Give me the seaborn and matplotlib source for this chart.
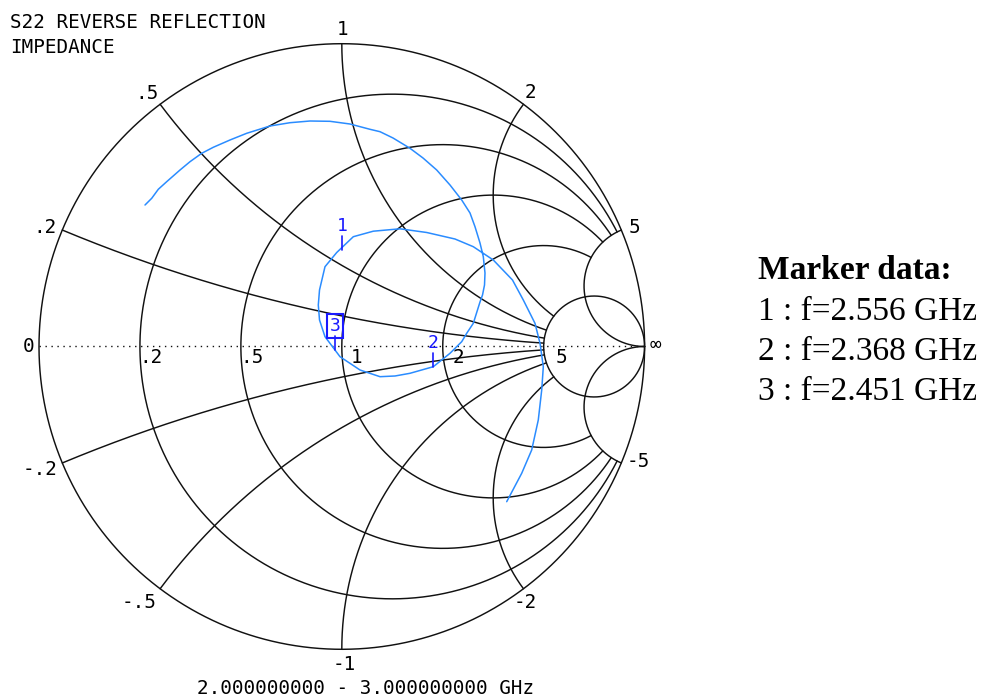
import numpy as np
import pandas as pd
import matplotlib
matplotlib.use("Agg")
import matplotlib.pyplot as plt
import seaborn as sns

# ---------------- data ----------------
# S22 trace, 2 GHz -> 3 GHz, as reflection coefficient (real / imaginary)
trace_re = [-0.6499, -0.6278, -0.6060, -0.5783, -0.5343, -0.5013, -0.4627,
            -0.4244, -0.3692, -0.3141, -0.2371, -0.1711, -0.1050, -0.0390,
            0.0271, 0.0931, 0.1262, 0.1691, 0.2252, 0.2682, 0.3134, 0.3573,
            0.3960, 0.4234, 0.4399, 0.4564, 0.4673, 0.4729, 0.4713, 0.4647,
            0.4564, 0.4343, 0.4125, 0.3960, 0.3573, 0.3022, 0.2252, 0.1757,
            0.1262, 0.0601, -0.0059, -0.0555, -0.0736, -0.0776, -0.0736,
            -0.0555, -0.0168, 0.0380, 0.1040, 0.1922, 0.2804, 0.3738, 0.4343,
            0.5003, 0.5637, 0.5994, 0.6380, 0.6546, 0.6655, 0.6602, 0.6489,
            0.6271, 0.5941, 0.5446]
trace_im = [0.4673, 0.4894, 0.5192, 0.5443, 0.5829, 0.6103, 0.6380,
            0.6579, 0.6820, 0.7041, 0.7282, 0.7391, 0.7447, 0.7437,
            0.7348, 0.7173, 0.7094, 0.6886, 0.6546, 0.6225, 0.5829, 0.5334,
            0.4838, 0.4409, 0.3956, 0.3418, 0.2966, 0.2427, 0.2031, 0.1701,
            0.1470, 0.0766, 0.0436, 0.0159, -0.0225, -0.0667, -0.0885, -0.0974,
            -0.0997, -0.0776, -0.0337, 0.0324, 0.0875, 0.1371, 0.1866,
            0.2635, 0.3104, 0.3626, 0.3808, 0.3887, 0.3765, 0.3550, 0.3296,
            0.2857, 0.2196, 0.1536, 0.0766, 0.0106, -0.0667, -0.1437, -0.2427,
            -0.3418, -0.4188, -0.5125]

marker_ids = ["1", "2", "3"]
marker_freq_ghz = [2.556, 2.368, 2.451]
marker_re = [0.000, 0.302, -0.0225]
marker_im = [0.320, -0.0667, -0.0116]
active_marker = "3"

r_grid = [0, 0.2, 0.5, 1, 2, 5]
x_grid = [0.2, 0.5, 1, 2, 5]
r_labels = [".2", ".5", "1", "2", "5"]
x_labels_pos = [".2", ".5", "1", "2", "5"]
x_labels_neg = ["-.2", "-.5", "-1", "-2", "-5"]

title_lines = ["S22 REVERSE REFLECTION", "IMPEDANCE"]
sweep_label = "2.000000000 - 3.000000000 GHz"
panel_title = "Marker data:"

# ---------------- layout / styling ----------------
W, H = 984, 697
CX, CY, RPX = 341.8, 346.5, 302.8          # chart centre / radius in pixels
GRID = "#111111"
TRACE = "#2a8cff"
MARK = "#1a1aff"
MONO = "DejaVu Sans Mono"
FS = 13.9
# label offsets in pixels (dx, dy up) from their grid anchor points
r_label_dx = [11, 11, 15, 16, 18]
x_pos_off = [(-17, 3), (-13, 11), (1, 14), (7, 12), (13, 3)]
x_neg_off = [(-22, -7), (-21, -14), (2, -15), (2, -14), (17, 1)]

sns.set_theme(style="white")
plt.rcParams["font.family"] = [MONO, "DejaVu Sans"]

fig = plt.figure(figsize=(W / 100, H / 100), dpi=100)
ax = fig.add_axes([0, 0, 1, 1])
ax.set_xlim(-CX / RPX, (W - CX) / RPX)
ax.set_ylim(-(H - CY) / RPX, CY / RPX)
ax.set_aspect("auto")
ax.axis("off")


def gamma(z):
    return (z - 1) / (z + 1)


XMAX = max(x_grid)
RMAX = max(r_grid)

# constant-resistance circles (clipped at |x| = XMAX, except rim and r=RMAX)
for r in r_grid:
    if r in (0, RMAX):
        th = np.linspace(0, 2 * np.pi, 1200)
        c, rad = r / (1 + r), 1 / (1 + r)
        gx, gy = c + rad * np.cos(th), rad * np.sin(th)
    else:
        xs = np.linspace(-XMAX, XMAX, 2500)
        g = gamma(r + 1j * xs)
        gx, gy = g.real, g.imag
    ax.plot(gx, gy, color=GRID, lw=1.05, zorder=1)

# constant-reactance arcs (clipped at r = RMAX, except x = XMAX)
for x in x_grid:
    for s in (1, -1):
        if x == XMAX:
            rs = np.tan(np.linspace(0, np.pi / 2 - 1e-4, 2000))
        else:
            rs = np.linspace(0, RMAX, 2000)
        g = gamma(rs + 1j * s * x)
        ax.plot(g.real, g.imag, color=GRID, lw=1.05, zorder=1)

# real axis (dotted)
ax.plot([-1, 1], [0, 0], color=GRID, lw=1.0, linestyle=(0, (1, 3.3)), zorder=1)

# resistance labels
for r, lab, dx in zip(r_grid[1:], r_labels, r_label_dx):
    g = gamma(r)
    ax.annotate(lab, (g.real, 0), xytext=(dx, -11.5), textcoords="offset pixels",
                ha="center", va="center", fontsize=FS, color="black")
ax.annotate("0", (-1, 0), xytext=(-10, 0), textcoords="offset pixels",
            ha="center", va="center", fontsize=FS, color="black")
ax.annotate("\u221e", (1, 0), xytext=(11, 2), textcoords="offset pixels",
            ha="center", va="center", fontsize=FS, color="black")

# reactance labels around the rim
for x, lp, ln, op, on in zip(x_grid, x_labels_pos, x_labels_neg, x_pos_off, x_neg_off):
    for s, lab, off in ((1, lp, op), (-1, ln, on)):
        g = gamma(1j * s * x)
        ax.annotate(lab, (g.real, g.imag), xytext=off,
                    textcoords="offset pixels", ha="center", va="center",
                    fontsize=FS, color="black")

# trace
df = pd.DataFrame({"re": trace_re, "im": trace_im})
sns.lineplot(data=df, x="re", y="im", sort=False, estimator=None,
             color=TRACE, lw=1.1, ax=ax, zorder=3, legend=False)

# markers
tick = 14 / RPX
lab_off = 24 / RPX
for mid, mr, mi in zip(marker_ids, marker_re, marker_im):
    ax.plot([mr, mr], [mi, mi + tick], color=MARK, lw=1.2, zorder=4)
    kw = {}
    if mid == active_marker:
        kw["bbox"] = dict(boxstyle="square,pad=0.14", fc="none", ec=MARK, lw=1.5)
    ax.text(mr, mi + lab_off, mid, ha="center", va="center", fontsize=13,
            color=MARK, zorder=5, **kw)

ax.set_xlabel("")
ax.set_ylabel("")

# titles
fig.text(10 / W, 1 - 28 / H, title_lines[0], ha="left", va="baseline",
         fontsize=FS, color="black")
fig.text(10 / W, 1 - 53 / H, title_lines[1], ha="left", va="baseline",
         fontsize=FS, color="black")
fig.text(366 / W, 1 - 694 / H, sweep_label, ha="center", va="baseline",
         fontsize=FS, color="black")

# marker data panel
SERIF = ["Liberation Serif", "DejaVu Serif"]
fig.text(758 / W, 1 - 279 / H, panel_title, ha="left", va="baseline",
         fontsize=24, fontweight="bold", family=SERIF, color="black")
for k, (mid, f) in enumerate(zip(marker_ids, marker_freq_ghz)):
    fig.text(758 / W, 1 - (320 + 40 * k) / H, f"{mid} : f={f:.3f} GHz",
             ha="left", va="baseline", fontsize=24, family=SERIF, color="black")

fig.savefig("out.png", dpi=100, facecolor="white")
